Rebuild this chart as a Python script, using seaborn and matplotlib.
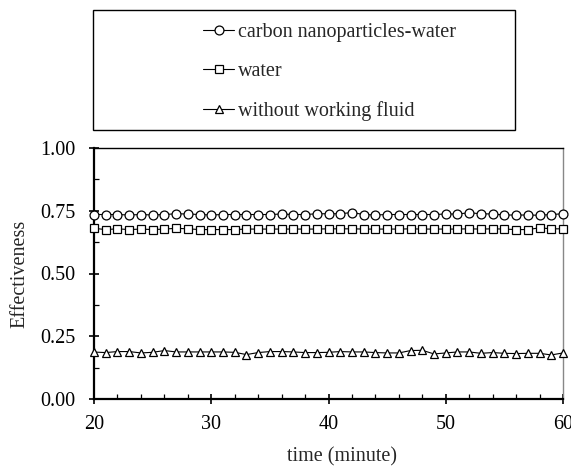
import numpy as np
import pandas as pd
import matplotlib
matplotlib.use("Agg")
import matplotlib.pyplot as plt
import seaborn as sns
from matplotlib.ticker import MultipleLocator, FormatStrFormatter
from matplotlib.patches import Rectangle

time = list(range(20, 61))
carbon = [0.735, 0.735, 0.735, 0.733, 0.735, 0.733, 0.735, 0.738, 0.737, 0.735,
          0.733, 0.735, 0.735, 0.735, 0.735, 0.735, 0.737, 0.735, 0.735, 0.738,
          0.738, 0.738, 0.743, 0.735, 0.733, 0.735, 0.735, 0.735, 0.735, 0.735,
          0.737, 0.737, 0.742, 0.738, 0.737, 0.733, 0.733, 0.733, 0.732, 0.735,
          0.738]
water = [0.680, 0.675, 0.678, 0.675, 0.677, 0.675, 0.677, 0.680, 0.678, 0.675,
         0.675, 0.675, 0.675, 0.677, 0.677, 0.677, 0.677, 0.677, 0.677, 0.677,
         0.678, 0.678, 0.678, 0.677, 0.677, 0.677, 0.677, 0.678, 0.677, 0.677,
         0.677, 0.677, 0.678, 0.677, 0.678, 0.677, 0.675, 0.675, 0.682, 0.678,
         0.678]
without = [0.187, 0.185, 0.189, 0.189, 0.1835, 0.186, 0.193, 0.1875, 0.1875, 0.1875,
           0.1875, 0.1875, 0.186, 0.177, 0.185, 0.189, 0.189, 0.1875, 0.185, 0.185,
           0.186, 0.189, 0.1875, 0.1875, 0.185, 0.1835, 0.1835, 0.193, 0.194, 0.1795,
           0.1835, 0.1875, 0.1875, 0.182, 0.185, 0.182, 0.181, 0.182, 0.182, 0.1755,
           0.1835]

labels = ["carbon nanoparticles-water", "water", "without working fluid"]
markers = ["o", "s", "^"]

sns.set_theme(style="white")
plt.rcParams['font.family'] = ['Liberation Serif', 'DejaVu Serif']
plt.rcParams['font.size'] = 14.5
FS = 14.5

fig = plt.figure(figsize=(5.71, 4.66), dpi=100)
ax = fig.add_axes([94/571, 1 - 399/466, (563 - 94)/571, (399 - 148)/466])

for vals, lab, mk in zip([carbon, water, without], labels, markers):
    df = pd.DataFrame({"time": time, "val": vals})
    sns.lineplot(data=df, x="time", y="val", ax=ax, color="black", linewidth=0.8,
                 marker=mk, markersize=6.4 if mk != "s" else 5.8,
                 markerfacecolor="white", markeredgecolor="black",
                 markeredgewidth=0.9, label=lab, legend=False, clip_on=False, zorder=3)

ax.set_xlim(20, 60)
ax.set_ylim(0, 1.0)
ax.xaxis.set_major_locator(MultipleLocator(10))
ax.xaxis.set_minor_locator(MultipleLocator(2))
ax.yaxis.set_major_locator(MultipleLocator(0.25))
ax.yaxis.set_minor_locator(MultipleLocator(0.125))
ax.yaxis.set_major_formatter(FormatStrFormatter('%.2f'))

ax.tick_params(which='major', direction='inout', length=7, width=1.2, colors='black',
               labelsize=FS)
ax.tick_params(axis='y', which='major', pad=10)
ax.tick_params(axis='x', which='major', pad=8)
ax.tick_params(which='minor', direction='in', length=3.5, width=0.9, colors='black')
ax.tick_params(bottom=True, left=True, top=False, right=False, which='both')

for s in ['left', 'bottom']:
    ax.spines[s].set_color('black')
    ax.spines[s].set_linewidth(1.6)
ax.spines['top'].set_color('black')
ax.spines['top'].set_linewidth(1.0)
ax.spines['right'].set_color('#888888')
ax.spines['right'].set_linewidth(1.0)

ax.set_xlabel("time (minute)", fontsize=FS)
ax.xaxis.set_label_coords(0.528, -0.193)
ax.set_ylabel("Effectiveness", fontsize=FS)
ax.yaxis.set_label_coords(-0.137, 0.5)

# Legend box drawn in figure space
box_l, box_r, box_t, box_b = 93, 515, 10, 130
fig.patches.append(Rectangle((box_l/571, 1 - box_b/466), (box_r - box_l)/571,
                             (box_b - box_t)/466, transform=fig.transFigure,
                             fill=False, edgecolor='black', linewidth=1.0))
handles, labs = ax.get_legend_handles_labels()
leg = fig.legend(handles, labs, loc='upper left', bbox_to_anchor=(203/571, 1 - 23/466),
                 frameon=False, fontsize=FS, handlelength=1.55, handletextpad=0.2,
                 labelspacing=0.98, borderaxespad=0, borderpad=0)

fig.savefig("out.png", dpi=100)
